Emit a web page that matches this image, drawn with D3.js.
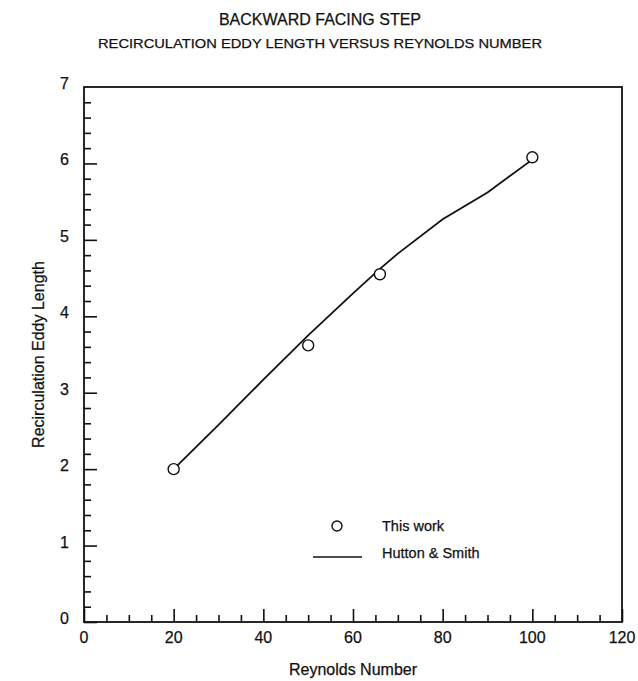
<!DOCTYPE html>
<html>
<head>
<meta charset="utf-8">
<script src="https://cdn.jsdelivr.net/npm/d3@7"></script>
<style>
  body { margin: 0; background: #fff; }
  text { font-family: "Liberation Sans", Arial, Helvetica, sans-serif; fill: #111; stroke: #111; stroke-width: 0.25px; }
</style>
</head>
<body>
<svg id="chart" width="638" height="681"></svg>
<script>
// measured points (this work)
const thisWorkRe = [20, 50, 66, 100];
const thisWorkLen = [2.0, 3.62, 4.55, 6.08];

// Hutton & Smith curve
const huttonRe = [20, 30, 40, 50, 60, 66, 70, 80, 90, 100];
const huttonLen = [2.0, 2.58, 3.17, 3.75, 4.3, 4.62, 4.82, 5.27, 5.62, 6.05];

const xMajor = [0, 20, 40, 60, 80, 100, 120];
const yMajor = [0, 1, 2, 3, 4, 5, 6, 7];

const margin = { top: 87, right: 16, bottom: 59, left: 84 };
const svg = d3.select("#chart");
const width = 638 - margin.left - margin.right;
const height = 681 - margin.top - margin.bottom;

const x = d3.scaleLinear().domain([0, 120]).range([0, width]);
const y = d3.scaleLinear().domain([0, 7]).range([height, 0]);

const g = svg.append("g").attr("transform", `translate(${margin.left},${margin.top})`);

// titles
svg.append("text")
  .text("BACKWARD FACING STEP")
  .attr("x", 320)
  .attr("y", 25)
  .attr("text-anchor", "middle")
  .attr("font-size", 16);

svg.append("text")
  .text("RECIRCULATION EDDY LENGTH VERSUS REYNOLDS NUMBER")
  .attr("x", 320)
  .attr("y", 48)
  .attr("text-anchor", "middle")
  .attr("font-size", 13.5)
  .attr("textLength", 444)
  .attr("lengthAdjust", "spacingAndGlyphs");

// frame
g.append("rect")
  .attr("width", width)
  .attr("height", height)
  .attr("fill", "none")
  .attr("stroke", "#111")
  .attr("stroke-width", 1.8);

// ticks point inward
const xAxis = d3.axisTop(x)
  .tickValues(d3.range(0, 121, 5))
  .tickSize(0)
  .tickFormat("");
g.append("g")
  .attr("transform", `translate(0,${height})`)
  .call(xAxis)
  .call((a) => a.select(".domain").remove())
  .selectAll(".tick line")
  .attr("y2", (d) => (d % 20 === 0 ? -13 : -7))
  .attr("stroke", "#111")
  .attr("stroke-width", 1.6);

const yAxis = d3.axisRight(y)
  .tickValues(d3.range(0, 35).map((i) => i * 0.2))
  .tickSize(0)
  .tickFormat("");
g.append("g")
  .call(yAxis)
  .call((a) => a.select(".domain").remove())
  .selectAll(".tick line")
  .attr("x2", (d) => (Math.abs(d - Math.round(d)) < 1e-6 ? 13 : 7))
  .attr("stroke", "#111")
  .attr("stroke-width", 1.6);

// tick labels
g.selectAll(".xlab")
  .data(xMajor)
  .join("text")
  .attr("class", "xlab")
  .attr("x", (d) => x(d))
  .attr("y", height + 21)
  .attr("text-anchor", "middle")
  .attr("font-size", 16)
  .text((d) => d);

g.selectAll(".ylab")
  .data(yMajor)
  .join("text")
  .attr("class", "ylab")
  .attr("x", -15)
  .attr("y", (d) => y(d) + 2)
  .attr("text-anchor", "end")
  .attr("font-size", 16)
  .text((d) => d);

// axis titles
svg.append("text")
  .text("Reynolds Number")
  .attr("x", margin.left + width / 2)
  .attr("y", 675)
  .attr("text-anchor", "middle")
  .attr("font-size", 16);

svg.append("text")
  .text("Recirculation Eddy Length")
  .attr("transform", `translate(44,${margin.top + height / 2}) rotate(-90)`)
  .attr("text-anchor", "middle")
  .attr("font-size", 16);

// Hutton & Smith line
const line = d3.line()
  .x((d) => x(d[0]))
  .y((d) => y(d[1]));

g.append("path")
  .datum(huttonRe.map((r, i) => [r, huttonLen[i]]))
  .attr("d", line)
  .attr("fill", "none")
  .attr("stroke", "#111")
  .attr("stroke-width", 1.8);

// this work points
g.selectAll(".pt")
  .data(thisWorkRe.map((r, i) => [r, thisWorkLen[i]]))
  .join("circle")
  .attr("class", "pt")
  .attr("cx", (d) => x(d[0]))
  .attr("cy", (d) => y(d[1]))
  .attr("r", 5.5)
  .attr("fill", "#fff")
  .attr("stroke", "#111")
  .attr("stroke-width", 1.4);

// legend
const legend = svg.append("g");
legend.append("circle")
  .attr("cx", 337)
  .attr("cy", 526)
  .attr("r", 5)
  .attr("fill", "#fff")
  .attr("stroke", "#111")
  .attr("stroke-width", 1.4);
legend.append("text")
  .text("This work")
  .attr("x", 382)
  .attr("y", 531)
  .attr("font-size", 14.5);
legend.append("line")
  .attr("x1", 313)
  .attr("x2", 362)
  .attr("y1", 557)
  .attr("y2", 557)
  .attr("stroke", "#111")
  .attr("stroke-width", 1.5);
legend.append("text")
  .text("Hutton & Smith")
  .attr("x", 382)
  .attr("y", 558)
  .attr("font-size", 14.5);
</script>
</body>
</html>
